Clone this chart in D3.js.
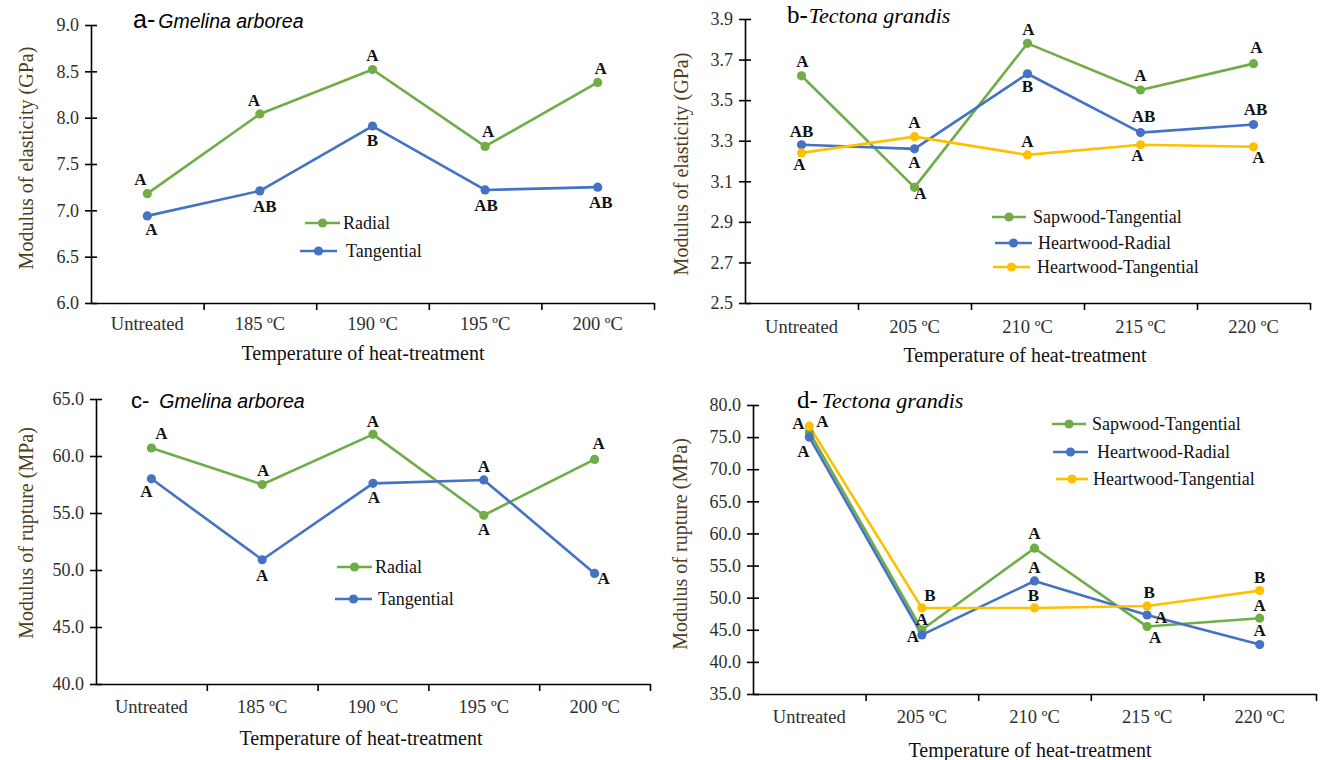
<!DOCTYPE html>
<html>
<head>
<meta charset="utf-8">
<script src="https://cdn.jsdelivr.net/npm/d3@7"></script>
<style>
html,body{margin:0;padding:0;background:#fff;}
svg{display:block;}
</style>
</head>
<body>
<svg id="chart" width="1320" height="760"></svg>
<script>
// ---------- DATA ----------
const catsGmelina = ["Untreated", "185 ºC", "190 ºC", "195 ºC", "200 ºC"];
const catsTeak = ["Untreated", "205 ºC", "210 ºC", "215 ºC", "220 ºC"];

const moeTicksA = [6.0, 6.5, 7.0, 7.5, 8.0, 8.5, 9.0];
const moeTicksB = [2.5, 2.7, 2.9, 3.1, 3.3, 3.5, 3.7, 3.9];
const morTicksC = [40, 45, 50, 55, 60, 65];
const morTicksD = [35, 40, 45, 50, 55, 60, 65, 70, 75, 80];

// a - Gmelina arborea, MOE (GPa)
const moeGmelinaRadial = [7.18, 8.04, 8.52, 7.69, 8.38];
const moeGmelinaTangential = [6.94, 7.21, 7.91, 7.22, 7.25];
const moeGmelinaRadialLetters = ["A", "A", "A", "A", "A"];
const moeGmelinaTangentialLetters = ["A", "AB", "B", "AB", "AB"];

// b - Tectona grandis, MOE (GPa)
const moeTeakSapTan = [3.62, 3.07, 3.78, 3.55, 3.68];
const moeTeakHeartRad = [3.28, 3.26, 3.63, 3.34, 3.38];
const moeTeakHeartTan = [3.24, 3.32, 3.23, 3.28, 3.27];
const moeTeakSapTanLetters = ["A", "A", "A", "A", "A"];
const moeTeakHeartRadLetters = ["AB", "A", "B", "AB", "AB"];
const moeTeakHeartTanLetters = ["A", "A", "A", "A", "A"];

// c - Gmelina arborea, MOR (MPa)
const morGmelinaRadial = [60.7, 57.5, 61.9, 54.8, 59.7];
const morGmelinaTangential = [58.0, 50.9, 57.6, 57.9, 49.7];
const morGmelinaRadialLetters = ["A", "A", "A", "A", "A"];
const morGmelinaTangentialLetters = ["A", "A", "A", "A", "A"];

// d - Tectona grandis, MOR (MPa)
const morTeakSapTan = [75.8, 45.0, 57.7, 45.5, 46.8];
const morTeakHeartRad = [75.0, 44.2, 52.6, 47.3, 42.7];
const morTeakHeartTan = [76.7, 48.4, 48.4, 48.7, 51.1];
const morTeakSapTanLetters = ["A", "A", "A", "A", "A"];
const morTeakHeartRadLetters = ["A", "A", "A", "A", "A"];
const morTeakHeartTanLetters = ["A", "B", "B", "B", "B"];

// ---------- STYLE / LAYOUT ----------
const GREEN = "#70AD47", BLUE = "#4472C4", YELLOW = "#FFC000";
const SERIF = "'Liberation Serif','Times New Roman',serif";
const SANS = "'Liberation Sans',Arial,sans-serif";
const TICK_COLOR = "#2e2e2e";
const YTITLE_COLOR = "#4e3d1c";

const svg = d3.select("#chart");

// label offsets [dx, dy] relative to the point (centre of text)
const panels = [
  {
    x0: 91, x1: 654, top: 25, bottom: 303,
    domain: [6.0, 9.0], ticks: moeTicksA, cats: catsGmelina,
    yTitle: "Modulus of elasticity (GPa)", yTitleX: 28, yTitleY: 158,
    xTitleY: 360, xTitleX: 363, tickLabelDy: 27,
    title: {x: 133, y: 28, letter: "a-", letterFont: SANS, letterSize: 25, name: "Gmelina arborea", nameFont: SANS, nameSize: 19.5, gap: 3},
    series: [
      {name: "Radial", color: GREEN, values: moeGmelinaRadial, letters: moeGmelinaRadialLetters,
       off: [[-7,-14],[-6,-13],[0,-14],[3,-15],[3,-14]]},
      {name: "Tangential", color: BLUE, values: moeGmelinaTangential, letters: moeGmelinaTangentialLetters,
       off: [[4,14],[5,16],[0,14],[1,16],[3,15]]}
    ],
    legend: [{lx1: 305, lx2: 340, y: 223, tx: 343}, {lx1: 300, lx2: 337, y: 251, tx: 346}]
  },
  {
    x0: 745, x1: 1310, top: 19, bottom: 303,
    domain: [2.5, 3.9], ticks: moeTicksB, cats: catsTeak,
    yTitle: "Modulus of elasticity (GPa)", yTitleX: 683, yTitleY: 164,
    xTitleY: 362, xTitleX: 1025, tickLabelDy: 30,
    title: {x: 787, y: 23, letter: "b-", letterFont: SERIF, letterSize: 25, name: "Tectona grandis", nameFont: SERIF, nameSize: 22, gap: 1},
    series: [
      {name: "Sapwood-Tangential", color: GREEN, values: moeTeakSapTan, letters: moeTeakSapTanLetters,
       off: [[1,-14],[6,6],[1,-14],[0,-15],[3,-16]]},
      {name: "Heartwood-Radial", color: BLUE, values: moeTeakHeartRad, letters: moeTeakHeartRadLetters,
       off: [[0,-13],[0,14],[0,13],[3,-16],[2,-15]]},
      {name: "Heartwood-Tangential", color: YELLOW, values: moeTeakHeartTan, letters: moeTeakHeartTanLetters,
       off: [[-2,12],[0,-14],[0,-13],[-3,11],[5,11]]}
    ],
    legend: [{lx1: 992, lx2: 1026, y: 217, tx: 1033}, {lx1: 995, lx2: 1032, y: 243, tx: 1038}, {lx1: 993, lx2: 1030, y: 267, tx: 1037}]
  },
  {
    x0: 96, x1: 650, top: 399, bottom: 684,
    domain: [40, 65], ticks: morTicksC, cats: catsGmelina,
    yTitle: "Modulus of rupture (MPa)", yTitleX: 28, yTitleY: 533,
    xTitleY: 745, xTitleX: 361, tickLabelDy: 29,
    title: {x: 131, y: 408, letter: "c-", letterFont: SANS, letterSize: 22, name: "Gmelina arborea", nameFont: SANS, nameSize: 19.5, gap: 10},
    series: [
      {name: "Radial", color: GREEN, values: morGmelinaRadial, letters: morGmelinaRadialLetters,
       off: [[10,-15],[1,-14],[0,-13],[0,14],[4,-16]]},
      {name: "Tangential", color: BLUE, values: morGmelinaTangential, letters: morGmelinaTangentialLetters,
       off: [[-5,13],[0,16],[1,14],[0,-13],[9,5]]}
    ],
    legend: [{lx1: 337, lx2: 372, y: 567, tx: 375}, {lx1: 335, lx2: 372, y: 599, tx: 378}]
  },
  {
    x0: 753, x1: 1316, top: 405, bottom: 694,
    domain: [35, 80], ticks: morTicksD, cats: catsTeak,
    yTitle: "Modulus of rupture (MPa)", yTitleX: 682, yTitleY: 544,
    xTitleY: 757, xTitleX: 1030, tickLabelDy: 29,
    title: {x: 797, y: 408, letter: "d-", letterFont: SERIF, letterSize: 25, name: "Tectona grandis", nameFont: SERIF, nameSize: 22, gap: 4},
    series: [
      {name: "Sapwood-Tangential", color: GREEN, values: morTeakSapTan, letters: morTeakSapTanLetters,
       off: [[-11,-8],[0,-10],[0,-15],[8,11],[0,-13]]},
      {name: "Heartwood-Radial", color: BLUE, values: morTeakHeartRad, letters: morTeakHeartRadLetters,
       off: [[-6,14],[-9,2],[0,-13],[14,2],[0,-14]]},
      {name: "Heartwood-Tangential", color: YELLOW, values: morTeakHeartTan, letters: morTeakHeartTanLetters,
       off: [[13,-5],[8,-12],[-1,-12],[2,-14],[0,-13]]}
    ],
    legend: [{lx1: 1052, lx2: 1086, y: 424, tx: 1092}, {lx1: 1053, lx2: 1088, y: 452, tx: 1097}, {lx1: 1056, lx2: 1088, y: 479, tx: 1093}]
  }
];

panels.forEach(p => {
  const g = svg.append("g");
  const y = d3.scaleLinear().domain(p.domain).range([p.bottom, p.top]);
  const x = d3.scaleBand().domain(p.cats).range([p.x0, p.x1]).padding(0);
  const xb = d3.scaleLinear().domain([0, p.cats.length]).range([p.x0, p.x1]);

  // Y axis
  const yAxis = g.append("g").attr("transform", `translate(${p.x0},0)`)
    .call(d3.axisLeft(y).tickValues(p.ticks).tickFormat(d3.format(".1f")).tickSizeOuter(0).tickSizeInner(6).tickPadding(6));
  yAxis.select(".domain").attr("stroke", "#000").attr("stroke-width", 1.6);
  yAxis.selectAll(".tick line").attr("x1", -6).attr("x2", 6).attr("stroke", "#000").attr("stroke-width", 1.6);
  yAxis.selectAll(".tick text").attr("font-family", SERIF).attr("font-size", 18).attr("fill", TICK_COLOR);

  // X axis line with boundary ticks
  const xAxis = g.append("g").attr("transform", `translate(0,${p.bottom})`)
    .call(d3.axisBottom(xb).tickValues(d3.range(1, p.cats.length + 1)).tickFormat("").tickSizeInner(7).tickSizeOuter(0));
  xAxis.select(".domain").attr("stroke", "#000").attr("stroke-width", 1.6);
  xAxis.selectAll(".tick line").attr("stroke", "#000").attr("stroke-width", 1.6);

  // category labels
  const xLab = g.append("g").attr("transform", `translate(0,${p.bottom})`)
    .call(d3.axisBottom(x).tickSize(0).tickPadding(0));
  xLab.select(".domain").remove();
  xLab.selectAll(".tick text").attr("font-family", SERIF).attr("font-size", 18.5).attr("fill", TICK_COLOR)
    .attr("dy", null).attr("y", p.tickLabelDy);

  // axis titles
  g.append("text").attr("transform", `translate(${p.yTitleX},${p.yTitleY}) rotate(-90)`)
    .attr("text-anchor", "middle").attr("dominant-baseline", "middle")
    .attr("font-family", SERIF).attr("font-size", 20).attr("fill", YTITLE_COLOR).text(p.yTitle);
  g.append("text").attr("x", p.xTitleX).attr("y", p.xTitleY).attr("text-anchor", "middle")
    .attr("font-family", SERIF).attr("font-size", 20).attr("fill", "#111").text("Temperature of heat-treatment");

  // panel title
  const t = g.append("text").attr("x", p.title.x).attr("y", p.title.y).attr("fill", "#000");
  t.append("tspan").attr("font-family", p.title.letterFont).attr("font-size", p.title.letterSize).text(p.title.letter);
  t.append("tspan").attr("dx", p.title.gap).attr("font-family", p.title.nameFont).attr("font-style", "italic")
    .attr("font-size", p.title.nameSize).text(p.title.name);

  // series lines and markers
  const line = d3.line().x((d, i) => x(p.cats[i]) + x.bandwidth() / 2).y(d => y(d));
  p.series.forEach(s => {
    g.append("path").datum(s.values).attr("d", line).attr("fill", "none")
      .attr("stroke", s.color).attr("stroke-width", 2.6).attr("stroke-linejoin", "round");
  });
  p.series.forEach(s => {
    g.selectAll(null).data(s.values).enter().append("circle")
      .attr("cx", (d, i) => x(p.cats[i]) + x.bandwidth() / 2).attr("cy", d => y(d))
      .attr("r", 4.6).attr("fill", s.color);
  });
  // significance letters
  p.series.forEach(s => {
    g.selectAll(null).data(s.values).enter().append("text")
      .attr("x", (d, i) => x(p.cats[i]) + x.bandwidth() / 2 + s.off[i][0])
      .attr("y", (d, i) => y(d) + s.off[i][1])
      .attr("text-anchor", "middle").attr("dominant-baseline", "central")
      .attr("font-family", SERIF).attr("font-weight", "bold").attr("font-size", 17).attr("fill", "#111")
      .text((d, i) => s.letters[i]);
  });

  // legend
  p.series.forEach((s, i) => {
    const L = p.legend[i];
    g.append("line").attr("x1", L.lx1).attr("x2", L.lx2).attr("y1", L.y).attr("y2", L.y)
      .attr("stroke", s.color).attr("stroke-width", 2.6);
    g.append("circle").attr("cx", (L.lx1 + L.lx2) / 2).attr("cy", L.y).attr("r", 4.6).attr("fill", s.color);
    g.append("text").attr("x", L.tx).attr("y", L.y).attr("dominant-baseline", "central")
      .attr("font-family", SERIF).attr("font-size", 18).attr("fill", "#111").text(s.name);
  });
});
</script>
</body>
</html>
